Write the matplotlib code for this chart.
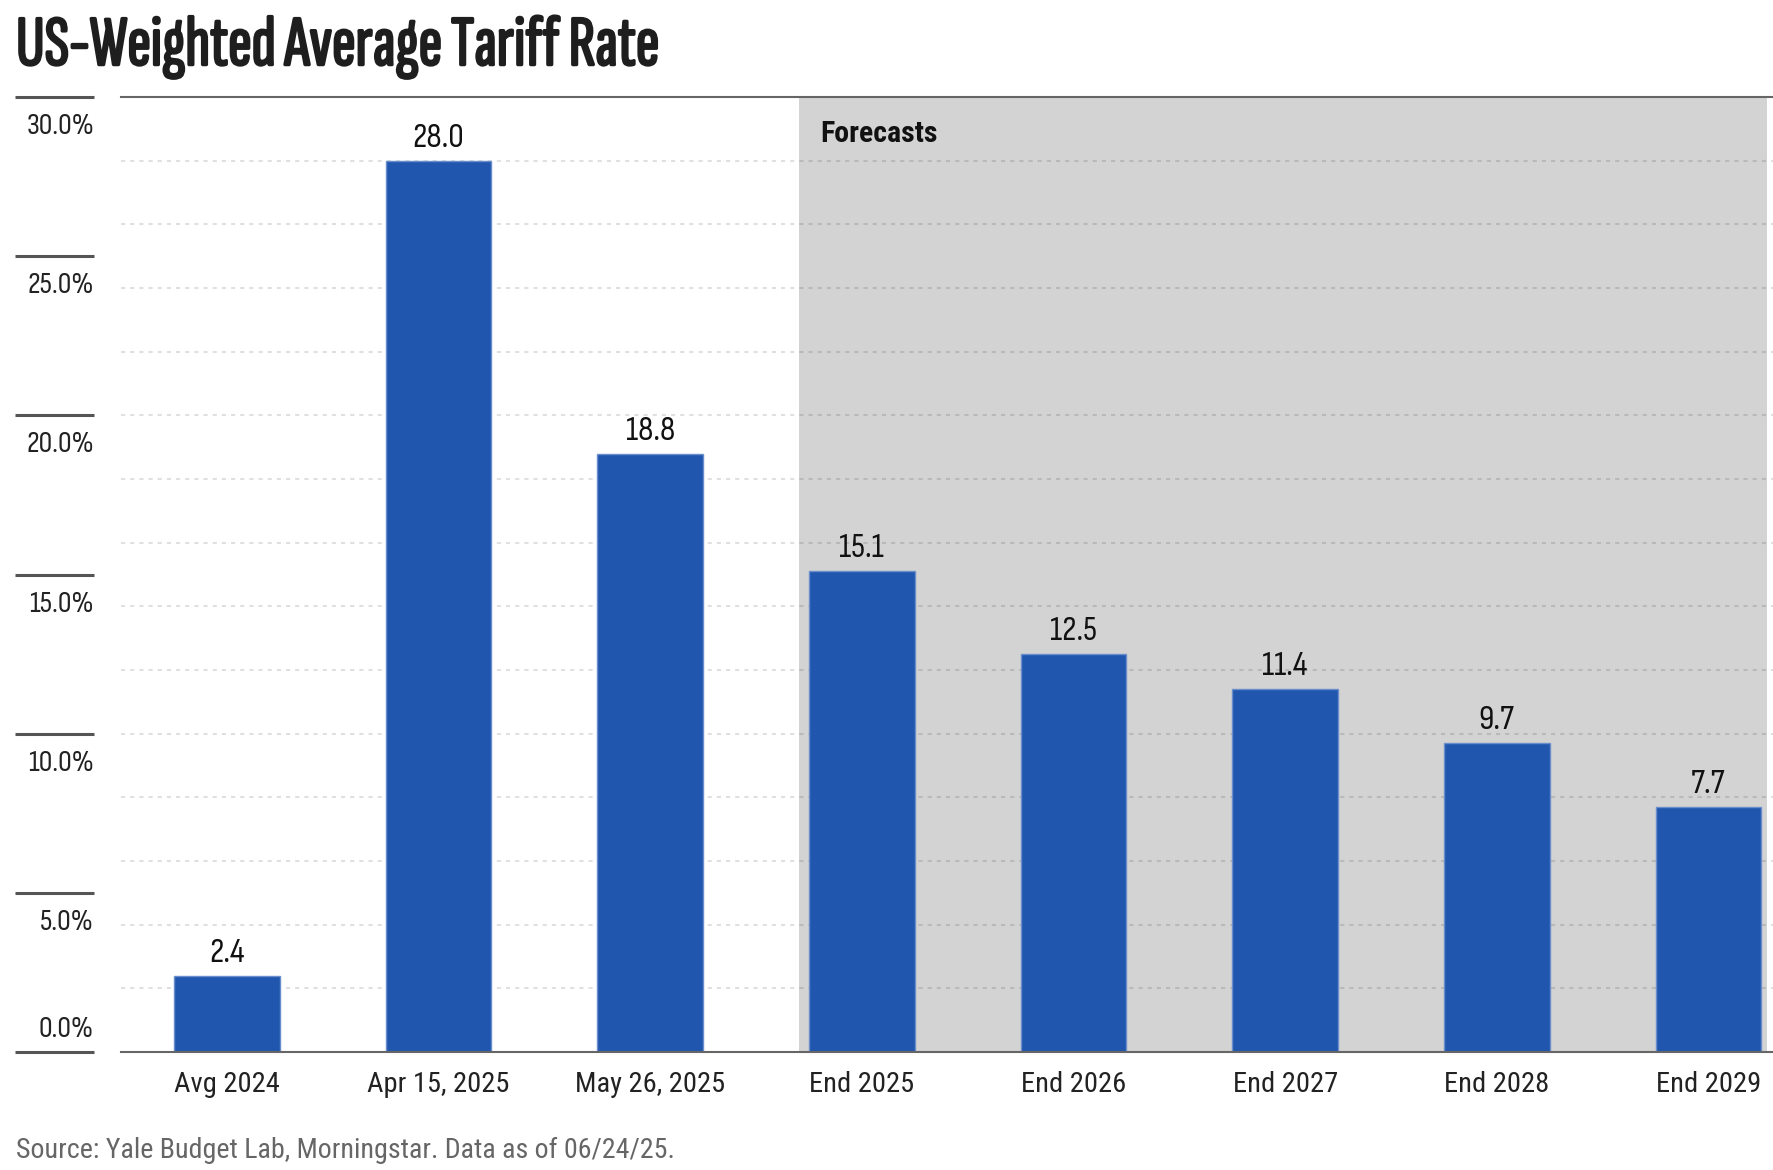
import matplotlib
matplotlib.use("Agg")
import matplotlib.pyplot as plt
from matplotlib import font_manager as fm
from matplotlib import patheffects as pe
from matplotlib.transforms import blended_transform_factory

# ---------------- data ----------------
categories = ["Avg 2024", "Apr 15, 2025", "May 26, 2025", "End 2025",
              "End 2026", "End 2027", "End 2028", "End 2029"]
values = [2.4, 28.0, 18.8, 15.1, 12.5, 11.4, 9.7, 7.7]
y_ticks = [0, 5, 10, 15, 20, 25, 30]
y_tick_labels = ["0.0%", "5.0%", "10.0%", "15.0%", "20.0%", "25.0%", "30.0%"]
grid_values = [2, 4, 6, 8, 10, 12, 14, 16, 18, 20, 22, 24, 26, 28]
title = "US-Weighted Average Tariff Rate"
forecast_label = "Forecasts"
source = "Source: Yale Budget Lab, Morningstar. Data as of 06/24/25."

# ---------------- fonts ----------------
available = set(f.name for f in fm.fontManager.ttflist)
def pick(*names):
    for n in names:
        if n in available:
            return n
    return "DejaVu Sans"
NUM = pick("Sofia Sans Condensed", "Roboto Condensed", "Liberation Sans Narrow")
TXT = pick("Roboto Condensed", "Sofia Sans Condensed", "Liberation Sans Narrow")
TITLE = pick("Sofia Sans Extra Condensed", "Saira ExtraCondensed", "Roboto Condensed")
BOLD = pick("Roboto Condensed", "Barlow Condensed", "Liberation Sans Narrow")

W, H = 1773, 1170
PX = 72 / 100  # points per pixel

fig = plt.figure(figsize=(W / 100, H / 100), dpi=100)
ax = fig.add_axes([121 / W, 118 / H, 1 - 121 / W, (1052 - 97) / H])
ax.set_xlim(-0.5, 7.305)
ax.set_ylim(0, 30)
for s in ax.spines.values():
    s.set_visible(False)
ax.set_xticks([])
ax.set_yticks([])

# forecast shading
ax.axvspan(2.704, 7.277, color="#d3d3d3", lw=0, zorder=0)

# dotted grid
for g in grid_values:
    ax.axhline(g, color="black", alpha=0.12, lw=1.5, ls=(0, (2.0, 2.4)), zorder=1)

# top and bottom lines
ax.axhline(30, color="#666666", lw=1.5, zorder=4, clip_on=False)
ax.axhline(0, color="#666666", lw=1.5, zorder=4, clip_on=False)

# bars
x = list(range(len(categories)))
ax.bar(x, values, width=0.5, color="#2056ae", edgecolor="#6a8dcc",
       linewidth=1.0, zorder=3)

for i, v in zip(x, values):
    ax.annotate(f"{v:.1f}", xy=(i, v), xytext=(0, 14 * PX), textcoords="offset points",
                ha="center", va="baseline", fontsize=25, family=NUM, color="#111111")

for i, c in zip(x, categories):
    ax.annotate(c, xy=(i, 0), xytext=(0, -40 * PX), textcoords="offset points",
                ha="center", va="baseline", fontsize=20.5, family=TXT, color="#222222",
                annotation_clip=False)

# left y tick marks + labels
trans = blended_transform_factory(fig.transFigure, ax.transData)
for t, lab in zip(y_ticks, y_tick_labels):
    ax.plot([15 / W, 94 / W], [t, t], transform=trans, color="#555555", lw=2.2,
            clip_on=False, solid_capstyle="butt")
    dy = 15 * PX if t == 0 else -37 * PX
    ax.annotate(lab, xy=(94 / W, t), xycoords=trans, xytext=(0, dy),
                textcoords="offset points", ha="right", va="baseline",
                fontsize=22, family=NUM, color="#222222", annotation_clip=False)

ax.text(2.805, 28.6, forecast_label, fontsize=21.5, family=BOLD, weight="bold",
        ha="left", va="baseline", color="#111111", zorder=5)

title_color = "#1e1e1e"
fig.text(16 / W, 1 - 65 / H, title, fontsize=51.5, family=TITLE,
         weight="bold" if TITLE != "Sofia Sans Extra Condensed" else "normal",
         ha="left", va="baseline", color=title_color,
         path_effects=[pe.withStroke(linewidth=1.8, foreground=title_color)])
fig.text(16 / W, 1 - 1158 / H, source, fontsize=20.2, family=TXT,
         ha="left", va="baseline", color="#666666")

fig.savefig("out.png", dpi=100)
